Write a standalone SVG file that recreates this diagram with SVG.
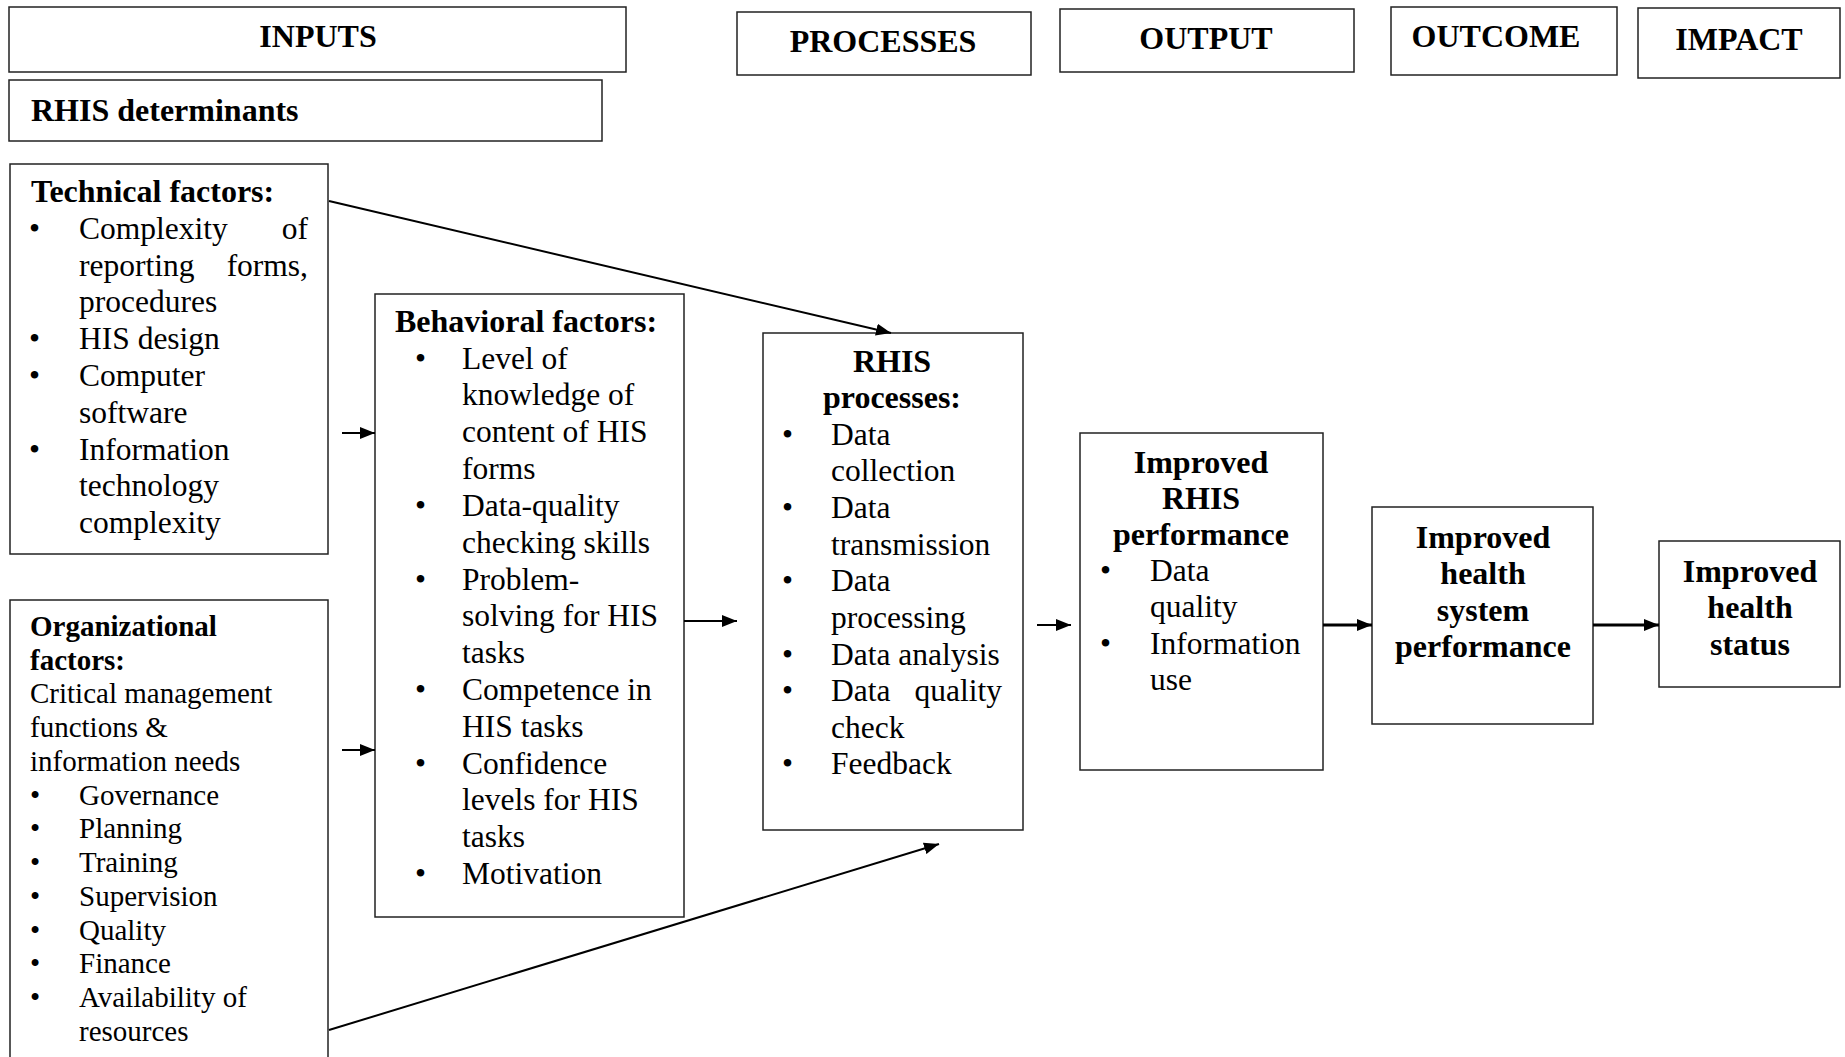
<svg xmlns="http://www.w3.org/2000/svg" width="1845" height="1057" viewBox="0 0 1845 1057">
<style>
text{font-family:"Liberation Serif","Times New Roman",serif;fill:#000}
.h{font-size:32px;font-weight:bold}
.b{font-size:31.5px}
.o{font-size:29px}
.box{fill:#fff;stroke:#222;stroke-width:1.5}
.c{fill:none;stroke:#000;stroke-width:2}
.t{fill:none;stroke:#000;stroke-width:3}
.mid{text-anchor:middle}
.end{text-anchor:end}
</style>
<defs>
<marker id="a" markerUnits="userSpaceOnUse" markerWidth="16" markerHeight="12" refX="15" refY="6" orient="auto">
<path d="M0,0 L15,6 L0,12 z" fill="#000"/>
</marker>
</defs>
<rect width="1845" height="1057" fill="#fff"/>

<g id="inputs"><rect class="box" x="9" y="7" width="617" height="65"/><text class="h mid" x="318" y="47">INPUTS</text></g>
<g id="rhis-determinants"><rect class="box" x="9" y="80" width="593" height="61"/><text class="h" x="31" y="121">RHIS determinants</text></g>
<g id="processes"><rect class="box" x="737" y="12" width="294" height="63"/><text class="h mid" x="883" y="52">PROCESSES</text></g>
<g id="output"><rect class="box" x="1060" y="9" width="294" height="63"/><text class="h mid" x="1206" y="49">OUTPUT</text></g>
<g id="outcome"><rect class="box" x="1391" y="7" width="226" height="68"/><text class="h mid" x="1496" y="47">OUTCOME</text></g>
<g id="impact"><rect class="box" x="1638" y="8" width="202" height="70"/><text class="h mid" x="1739" y="50">IMPACT</text></g>

<g id="technical-factors">
<rect class="box" x="10" y="164" width="318" height="390"/>
<text class="h" x="31" y="202">Technical factors:</text>
<text class="b">
<tspan x="29" y="239">•</tspan><tspan x="79" y="239">Complexity</tspan>
<tspan x="29" y="349">•</tspan><tspan x="79" y="349">HIS design</tspan>
<tspan x="29" y="386">•</tspan><tspan x="79" y="386">Computer</tspan>
<tspan x="79" y="423">software</tspan>
<tspan x="29" y="460">•</tspan><tspan x="79" y="460">Information</tspan>
<tspan x="79" y="496">technology</tspan>
<tspan x="79" y="533">complexity</tspan>
<tspan x="79" y="276">reporting</tspan>
<tspan x="79" y="312">procedures</tspan>
</text>
<text class="b end"><tspan x="308" y="239">of</tspan><tspan x="308" y="276">forms,</tspan></text>
</g>

<g id="organizational-factors">
<rect class="box" x="10" y="600" width="318" height="470"/>
<text class="o" font-weight="bold"><tspan x="30" y="636">Organizational</tspan><tspan x="30" y="670">factors:</tspan></text>
<text class="o">
<tspan x="30" y="703">Critical management</tspan>
<tspan x="30" y="737">functions &amp;</tspan>
<tspan x="30" y="771">information needs</tspan>
<tspan x="30" y="805">•</tspan><tspan x="79" y="805">Governance</tspan>
<tspan x="30" y="838">•</tspan><tspan x="79" y="838">Planning</tspan>
<tspan x="30" y="872">•</tspan><tspan x="79" y="872">Training</tspan>
<tspan x="30" y="906">•</tspan><tspan x="79" y="906">Supervision</tspan>
<tspan x="30" y="940">•</tspan><tspan x="79" y="940">Quality</tspan>
<tspan x="30" y="973">•</tspan><tspan x="79" y="973">Finance</tspan>
<tspan x="30" y="1007">•</tspan><tspan x="79" y="1007">Availability of</tspan>
<tspan x="79" y="1041">resources</tspan>
</text>
</g>

<g id="behavioral-factors">
<rect class="box" x="375" y="294" width="309" height="623"/>
<text class="h" x="395" y="332">Behavioral factors:</text>
<text class="b">
<tspan x="415" y="369">•</tspan><tspan x="462" y="369">Level of</tspan>
<tspan x="462" y="405">knowledge of</tspan>
<tspan x="462" y="442">content of HIS</tspan>
<tspan x="462" y="479">forms</tspan>
<tspan x="415" y="516">•</tspan><tspan x="462" y="516">Data-quality</tspan>
<tspan x="462" y="553">checking skills</tspan>
<tspan x="415" y="590">•</tspan><tspan x="462" y="590">Problem-</tspan>
<tspan x="462" y="626">solving for HIS</tspan>
<tspan x="462" y="663">tasks</tspan>
<tspan x="415" y="700">•</tspan><tspan x="462" y="700">Competence in</tspan>
<tspan x="462" y="737">HIS tasks</tspan>
<tspan x="415" y="774">•</tspan><tspan x="462" y="774">Confidence</tspan>
<tspan x="462" y="810">levels for HIS</tspan>
<tspan x="462" y="847">tasks</tspan>
<tspan x="415" y="884">•</tspan><tspan x="462" y="884">Motivation</tspan>
</text>
</g>

<g id="rhis-processes">
<rect class="box" x="763" y="333" width="260" height="497"/>
<text class="h mid"><tspan x="892" y="372">RHIS</tspan><tspan x="892" y="408">processes:</tspan></text>
<text class="b">
<tspan x="782" y="445">•</tspan><tspan x="831" y="445">Data</tspan>
<tspan x="831" y="481">collection</tspan>
<tspan x="782" y="518">•</tspan><tspan x="831" y="518">Data</tspan>
<tspan x="831" y="555">transmission</tspan>
<tspan x="782" y="591">•</tspan><tspan x="831" y="591">Data</tspan>
<tspan x="831" y="628">processing</tspan>
<tspan x="782" y="665">•</tspan><tspan x="831" y="665">Data analysis</tspan>
<tspan x="782" y="701">•</tspan><tspan x="831" y="701">Data</tspan>
<tspan x="831" y="738">check</tspan>
<tspan x="782" y="774">•</tspan><tspan x="831" y="774">Feedback</tspan>
</text>
<text class="b end" x="1002" y="701">quality</text>
</g>

<g id="improved-rhis-performance">
<rect class="box" x="1080" y="433" width="243" height="337"/>
<text class="h mid"><tspan x="1201" y="473">Improved</tspan><tspan x="1201" y="509">RHIS</tspan><tspan x="1201" y="545">performance</tspan></text>
<text class="b">
<tspan x="1100" y="581">•</tspan><tspan x="1150" y="581">Data</tspan>
<tspan x="1150" y="617">quality</tspan>
<tspan x="1100" y="654">•</tspan><tspan x="1150" y="654">Information</tspan>
<tspan x="1150" y="690">use</tspan>
</text>
</g>

<g id="improved-health-system-performance">
<rect class="box" x="1372" y="507" width="221" height="217"/>
<text class="h mid"><tspan x="1483" y="548">Improved</tspan><tspan x="1483" y="584">health</tspan><tspan x="1483" y="621">system</tspan><tspan x="1483" y="657">performance</tspan></text>
</g>

<g id="improved-health-status">
<rect class="box" x="1659" y="541" width="181" height="146"/>
<text class="h mid"><tspan x="1750" y="582">Improved</tspan><tspan x="1750" y="618">health</tspan><tspan x="1750" y="655">status</tspan></text>
</g>

<g id="connectors">
<line class="c" x1="329" y1="201" x2="891" y2="333" marker-end="url(#a)"/>
<line class="c" x1="329" y1="1030" x2="939" y2="844" marker-end="url(#a)"/>
<line class="c" x1="342" y1="433" x2="375" y2="433" marker-end="url(#a)"/>
<line class="c" x1="342" y1="750" x2="375" y2="750" marker-end="url(#a)"/>
<line class="c" x1="684" y1="621" x2="737" y2="621" marker-end="url(#a)"/>
<line class="c" x1="1037" y1="625" x2="1071" y2="625" marker-end="url(#a)"/>
<line class="t" x1="1323" y1="625" x2="1372" y2="625" marker-end="url(#a)"/>
<line class="t" x1="1593" y1="625" x2="1659" y2="625" marker-end="url(#a)"/>
</g>
</svg>
